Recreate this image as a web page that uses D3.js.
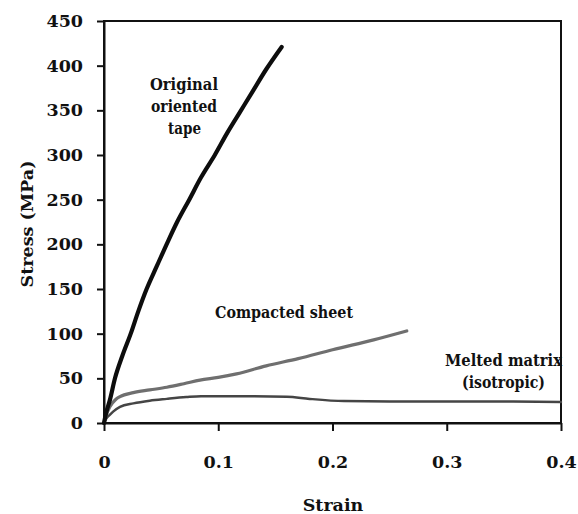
<!DOCTYPE html>
<html><head><meta charset="utf-8">
<script src="https://cdn.jsdelivr.net/npm/d3@7"></script>
<style>body{margin:0;background:#fff}svg{display:block}</style>
</head><body>
<svg id="c" width="578" height="514"></svg>
<script>
const xTicks = [0, 0.1, 0.2, 0.3, 0.4];
const xTickLabels = ["0", "0.1", "0.2", "0.3", "0.4"];
const yTicks = [0, 50, 100, 150, 200, 250, 300, 350, 400, 450];

const originalStrain = [0,0.002,0.005,0.0096,0.016,0.0234,0.030,0.0373,0.046,0.0548,0.064,0.0746,0.085,0.097,0.108,0.119,0.130,0.142,0.1555];
const originalStress = [0,12,25,50,75,100,125,150,175,200,225,250,275,300,325,348,371,396,421];

const compactedStrain = [0,0.002,0.005,0.01,0.014,0.0257,0.04,0.055,0.07,0.084,0.1,0.116,0.142,0.17,0.2,0.236,0.265];
const compactedStress = [0,9,18,26,29.5,34,37,40,44,48,51,55,64,72,82,93,103];

const meltedStrain = [0,0.002,0.005,0.008,0.014,0.0257,0.04,0.055,0.072,0.085,0.12,0.16,0.18,0.21,0.25,0.3,0.35,0.4];
const meltedStress = [0,5,9,12.7,18,22,25,27,29,30,30,29.5,27,24.5,24,24,24,23.5];

const svg = d3.select("#c");
const m = {l:104, t:21, r:17, b:91};
const W = 578 - m.l - m.r, H = 514 - m.t - m.b;
const x = d3.scaleLinear().domain([0,0.4]).range([0,W]);
const y = d3.scaleLinear().domain([0,450]).range([H,0]);
const g = svg.append("g").attr("transform",`translate(${m.l},${m.t})`);
const font = '"DejaVu Serif", serif';

g.append("rect").attr("x",0).attr("y",0).attr("width",W).attr("height",H)
  .attr("fill","none").attr("stroke","#111").attr("stroke-width",2);

const xa = g.append("g").attr("transform",`translate(0,${H})`)
  .call(d3.axisBottom(x).tickValues(xTicks).tickFormat((d,i)=>xTickLabels[i]).tickSize(8).tickPadding(25).tickSizeOuter(0));
const ya = g.append("g")
  .call(d3.axisLeft(y).tickValues(yTicks).tickSize(7).tickPadding(14).tickSizeOuter(0));
[xa,ya].forEach(a=>{
  a.attr("font-family",null).attr("font-size",null);
  a.select(".domain").attr("stroke","#111").attr("stroke-width",2);
  a.selectAll(".tick line").attr("stroke","#111").attr("stroke-width",2);
  a.selectAll(".tick text").style("font-family",font).style("font-weight","bold")
    .style("font-size","17.5px").attr("fill","#111");
});

const line = d3.line().x(d=>x(d[0])).y(d=>y(d[1])).curve(d3.curveMonotoneX);
const series = [
  {sx:meltedStrain, sy:meltedStress, color:"#454545", w:2.5},
  {sx:compactedStrain, sy:compactedStress, color:"#6f6f6f", w:3.2},
  {sx:originalStrain, sy:originalStress, color:"#0d0d0d", w:4.2}
];
series.forEach(s=>{
  g.append("path").datum(s.sx.map((v,i)=>[v,s.sy[i]]))
    .attr("d",line).attr("fill","none").attr("stroke",s.color)
    .attr("stroke-width",s.w).attr("stroke-linejoin","round").attr("stroke-linecap","round");
});

const ann = [
  {t:"Original", x:150, y:90, w:68},
  {t:"oriented", x:151, y:112, w:66},
  {t:"tape", x:168, y:134, w:33},
  {t:"Compacted sheet", x:215, y:318, w:138},
  {t:"Melted matrix", x:445, y:366, w:117},
  {t:"(isotropic)", x:462, y:388, w:83}
];
svg.selectAll("text.ann").data(ann).enter().append("text").attr("class","ann")
  .attr("x",d=>d.x).attr("y",d=>d.y).attr("text-anchor","start")
  .attr("textLength",d=>d.w).attr("lengthAdjust","spacingAndGlyphs")
  .style("font-family",font).style("font-weight","bold").style("font-size","16.5px").attr("fill","#111")
  .text(d=>d.t);

svg.append("text").attr("x",333).attr("y",511).attr("text-anchor","middle")
  .style("font-family",font).style("font-weight","bold").style("font-size","17.5px").attr("fill","#111")
  .text("Strain");
svg.append("text").attr("transform","translate(33,224) rotate(-90)").attr("text-anchor","middle")
  .style("font-family",font).style("font-weight","bold").style("font-size","17.5px").attr("fill","#111")
  .text("Stress (MPa)");
</script>
</body></html>
